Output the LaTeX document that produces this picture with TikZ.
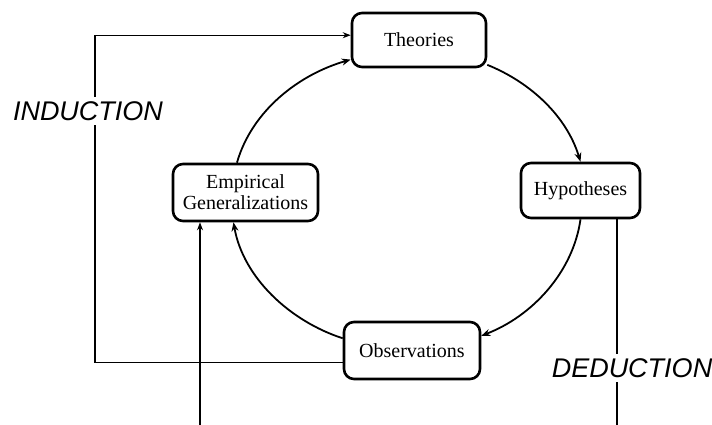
\documentclass[tikz,border=0pt]{standalone}
\usepackage{fontspec}
\setmainfont{Liberation Serif}
\newfontfamily\modefont{Liberation Sans}
\usetikzlibrary{arrows.meta}
\tikzset{
  stage/.style   ={draw, rounded corners=10pt, line width=2.6pt, fill=white,
                   align=center, inner sep=2pt, font=\fontsize{20}{21}\selectfont},
  % the four arcs of the research wheel
  wheel/.style   ={line width=1.8pt, -{Stealth[length=9pt,width=7pt]}, looseness=0.9},
  route/.style   ={line width=1.1pt},
  routetip/.style={route, -{Stealth[length=8pt,width=6pt]}},
  mode/.style    ={fill=white, inner sep=4pt,
                   font=\modefont\itshape\fontsize{27}{30}\selectfont},
}
\begin{document}
\begin{tikzpicture}[x=1pt,y=1pt]
\useasboundingbox (0,0) rectangle (712,-425);
\node[stage, minimum width=134pt, minimum height=54pt] (T) at (419,-40) {Theories};
\node[stage, minimum width=119pt, minimum height=55pt] (H) at (580.5,-190.5) {Hypotheses};
\node[stage, minimum width=136pt, minimum height=57pt] (O) at (412,-350.5) {Observations};
\node[stage, minimum width=145pt, minimum height=57pt] (E) at (245.5,-192.5)
   {Empirical\\Generalizations};
\coordinate (indx) at (95,0);
\coordinate (dedx) at (617,0);
\coordinate (bot)  at (0,-425);
% wheel
\draw[wheel] (T.-20) to[out=-22,in=107] (H.north);
\draw[wheel] (H.south) to[out=-98,in=21] (O.12);
\draw[wheel] (O.170) to[out=162,in=280] (E.248);
\draw[wheel] (E.106) to[out=74,in=196] (T.196);
% induction and deduction routes
\draw[routetip] (O.190) -- (O.190 -| indx) |- (T.176);
\draw[route] (H.south -| dedx) -- (dedx |- bot);
\draw[routetip] ([xshift=-45.5pt]E.south |- bot) -- ([xshift=-45.5pt]E.south);
\node[mode] (ind) at (88,-111) {INDUCTION};
\node[mode] (ded) at (632,-368) {DEDUCTION};
\end{tikzpicture}
\end{document}
